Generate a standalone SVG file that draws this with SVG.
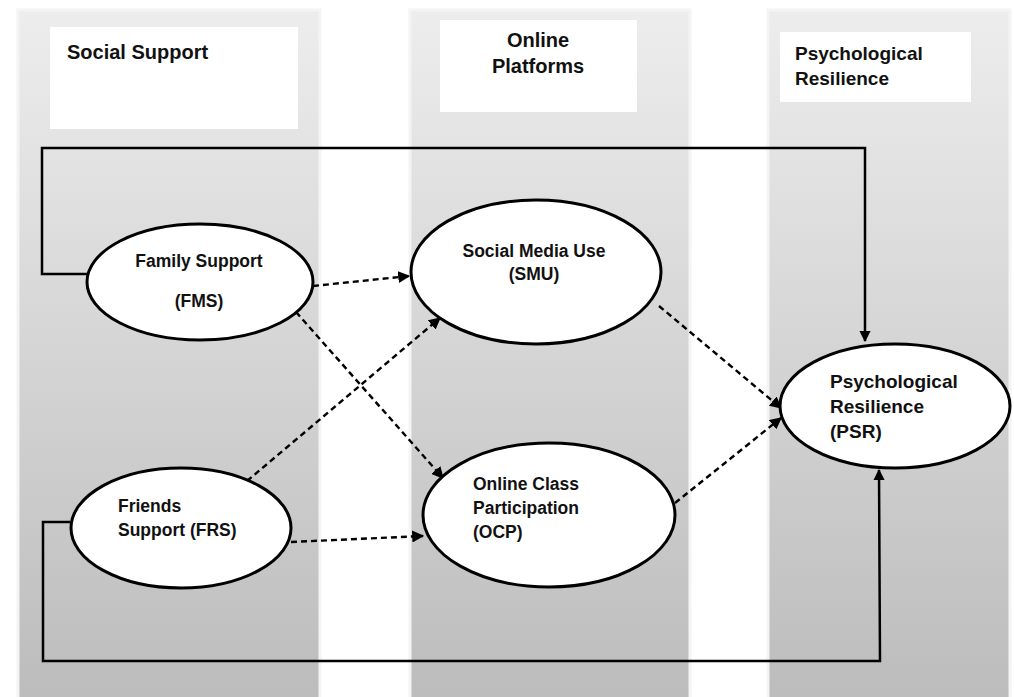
<svg xmlns="http://www.w3.org/2000/svg" width="1014" height="697" viewBox="0 0 1014 697">
<defs>
<linearGradient id="col" x1="0" y1="0" x2="0" y2="1">
<stop offset="0" stop-color="#ededed"/>
<stop offset="1" stop-color="#bcbcbc"/>
</linearGradient>
<marker id="ah" viewBox="0 0 10 10" refX="9" refY="5" markerWidth="5" markerHeight="5" orient="auto" markerUnits="strokeWidth">
<path d="M0,0 L10,5 L0,10 z" fill="#000"/>
</marker>
<marker id="ahs" viewBox="0 0 10 10" refX="9" refY="5" markerWidth="4.5" markerHeight="4.5" orient="auto" markerUnits="strokeWidth">
<path d="M0,0 L10,5 L0,10 z" fill="#000"/>
</marker>
</defs>
<style>
.col{fill:url(#col);stroke:#f4f4f4;stroke-width:3}
.hdr{fill:#fff}
.t{font-family:"Liberation Sans",Arial,sans-serif;font-weight:bold;fill:#111}
.h{font-size:20px}
.n{font-size:17.5px}
.p{font-size:19px}
.node{fill:#fff;stroke:#000;stroke-width:3}
.dash{fill:none;stroke:#000;stroke-width:2.4;stroke-dasharray:6 4;marker-end:url(#ah)}
.solid{fill:none;stroke:#000;stroke-width:2.5}
</style>
<rect width="1014" height="697" fill="#fff"/>
<g id="columns">
<rect class="col" x="18" y="10" width="302" height="690"/>
<rect class="col" x="410" y="10" width="280" height="690"/>
<rect class="col" x="768" y="10" width="242" height="690"/>
</g>
<g id="header-social">
<rect class="hdr" x="50" y="27" width="248" height="102"/>
<text class="t h" x="67" y="59">Social Support</text>
</g>
<g id="header-online">
<rect class="hdr" x="440" y="20" width="197" height="92"/>
<text class="t h" x="538" y="47" text-anchor="middle">Online</text>
<text class="t h" x="538" y="73" text-anchor="middle">Platforms</text>
</g>
<g id="header-psr">
<rect class="hdr" x="780" y="32" width="191" height="70"/>
<text class="t p" x="795" y="60">Psychological</text>
<text class="t p" x="795" y="85">Resilience</text>
</g>
<g id="connectors">
<path class="solid" d="M88,274 H42 V148 H865 V341" marker-end="url(#ahs)"/>
<path class="solid" d="M70,522 H43 V661 H880 L879,470" marker-end="url(#ahs)"/>
<line class="dash" x1="313" y1="286" x2="409" y2="276"/>
<line class="dash" x1="296" y1="312" x2="443" y2="478"/>
<line class="dash" x1="247" y1="481" x2="440" y2="318"/>
<line class="dash" x1="291" y1="542" x2="423" y2="536"/>
<line class="dash" x1="659" y1="306" x2="781" y2="408"/>
<line class="dash" x1="675" y1="503" x2="781" y2="418"/>
</g>
<g id="FMS">
<ellipse class="node" cx="200" cy="282" rx="113" ry="58"/>
<text class="t n" x="199" y="267" text-anchor="middle">Family Support</text>
<text class="t n" x="199" y="307" text-anchor="middle">(FMS)</text>
</g>
<g id="SMU">
<ellipse class="node" cx="536" cy="272" rx="125" ry="72"/>
<text class="t n" x="534" y="257" text-anchor="middle">Social Media Use</text>
<text class="t n" x="534" y="280" text-anchor="middle">(SMU)</text>
</g>
<g id="FRS">
<ellipse class="node" cx="181" cy="528" rx="110" ry="60"/>
<text class="t n" x="118" y="512">Friends</text>
<text class="t n" x="118" y="536">Support (FRS)</text>
</g>
<g id="OCP">
<ellipse class="node" cx="549" cy="515" rx="126" ry="72"/>
<text class="t n" x="473" y="490">Online Class</text>
<text class="t n" x="473" y="514">Participation</text>
<text class="t n" x="473" y="538">(OCP)</text>
</g>
<g id="PSR">
<ellipse class="node" cx="895" cy="406" rx="115" ry="62"/>
<text class="t p" x="830" y="388">Psychological</text>
<text class="t p" x="830" y="413">Resilience</text>
<text class="t p" x="830" y="438">(PSR)</text>
</g>
</svg>
